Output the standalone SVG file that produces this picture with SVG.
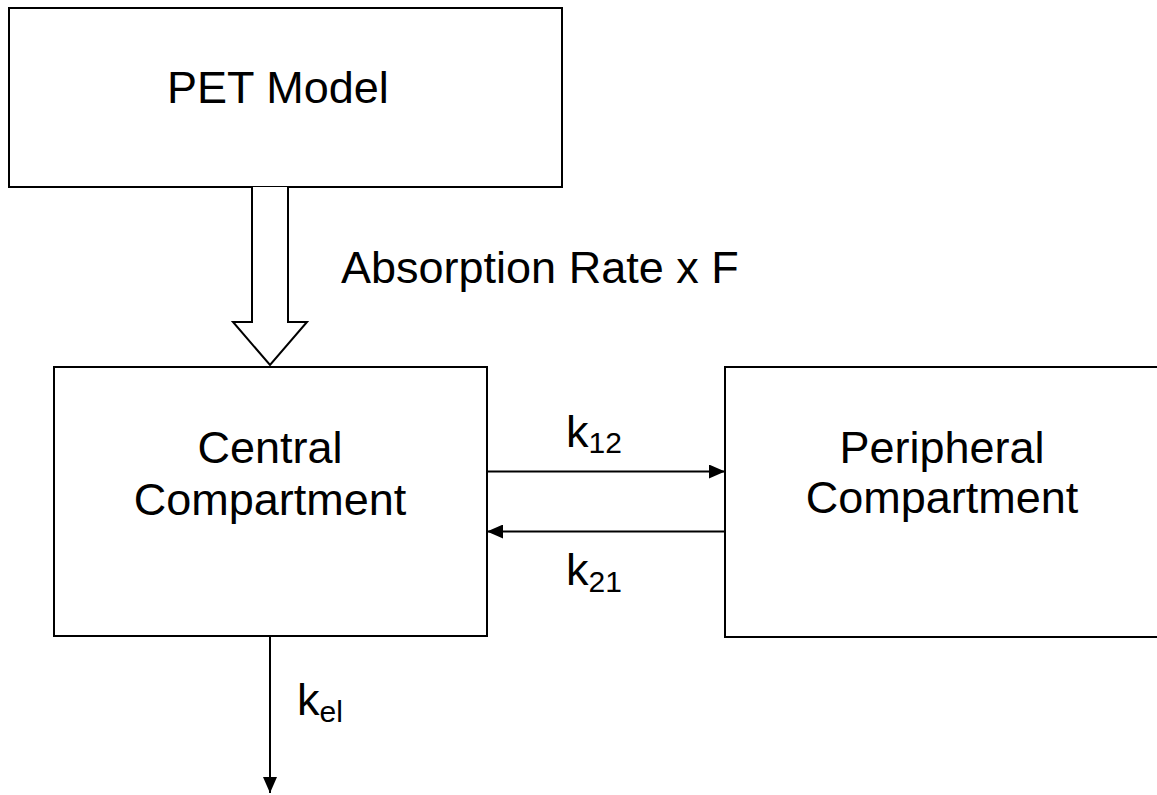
<svg xmlns="http://www.w3.org/2000/svg" width="1157" height="795" viewBox="0 0 1157 795">
<style>
.box{fill:#fff;stroke:#000;stroke-width:2}
.ln{stroke:#000;stroke-width:2;fill:none}
text{font-family:"Liberation Sans",Arial,sans-serif;font-size:45px;fill:#000}
.sub{font-size:30px}
</style>
<defs>
<marker id="ah" viewBox="0 0 16 14" refX="16" refY="7" markerWidth="16" markerHeight="14" markerUnits="userSpaceOnUse" orient="auto">
<path d="M0,0 L16,7 L0,14 Z" fill="#000"/>
</marker>
</defs>
<g id="pet-model">
<rect class="box" x="9" y="8" width="553" height="179"/>
<text x="167" y="103">PET Model</text>
</g>
<g id="central">
<rect class="box" x="54" y="367" width="433" height="269"/>
<text x="270" y="463" text-anchor="middle">Central</text>
<text x="270" y="515" text-anchor="middle">Compartment</text>
</g>
<g id="peripheral">
<rect class="box" x="725" y="367" width="440" height="270"/>
<text x="942" y="463" text-anchor="middle">Peripheral</text>
<text x="942" y="513" text-anchor="middle">Compartment</text>
</g>
<g id="connectors">
<path class="box" d="M252,187 L252,322 L233,322 L270,365 L307,322 L288,322 L288,187"/>
<text x="341" y="283">Absorption Rate x F</text>
<line class="ln" x1="487" y1="471.5" x2="725" y2="471.5" marker-end="url(#ah)"/>
<line class="ln" x1="725" y1="531.5" x2="487" y2="531.5" marker-end="url(#ah)"/>
<line class="ln" x1="270" y1="636" x2="270" y2="793" marker-end="url(#ah)"/>
<text x="566" y="447">k<tspan class="sub" dy="6">12</tspan></text>
<text x="566" y="585">k<tspan class="sub" dy="7">21</tspan></text>
<text x="297" y="715">k<tspan class="sub" dy="7">el</tspan></text>
</g>
</svg>
